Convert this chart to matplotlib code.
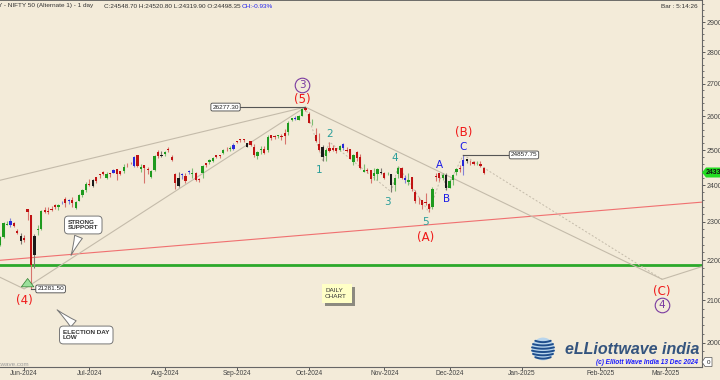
import matplotlib
matplotlib.use("Agg")
import matplotlib.pyplot as plt
import matplotlib.colors as mcolors
from matplotlib.patches import Circle, Polygon, FancyBboxPatch
from matplotlib.ticker import FixedLocator, NullFormatter
import numpy as np
import pandas as pd

plt.rcParams["font.family"] = ["Liberation Sans", "DejaVu Sans"]

BG = "#F3EBD9"
W, H = 720, 380

# NSE holidays inside the window (no bar on these days)
holidays = ["2024-06-17", "2024-07-17", "2024-08-15", "2024-10-02", "2024-11-15",
            "2024-11-20", "2024-12-25", "2025-02-26", "2025-03-14"]

# daily OHLC, 22 May 2024 .. 13 Dec 2024 (one value per trading day)
opens = [
    22405, 22614, 22931, 23038, 22977, 22762, 22617, 22568,
    23337, 23179, 22128, 22798, 22821, 23319, 23283, 23344, 23453, 23399, 23573, 23629, 23586, 23581,
    23382, 23577, 23724, 23881, 24045,
    23992, 24229, 24292, 24369, 24213, 24329, 24351, 24459, 24388, 24388, 24597, 24615, 24543, 24853,
    24446, 24568, 24444, 24231, 24423, 24943, 24839, 24886,
    25031, 24789, 24303, 24189, 24289, 24249, 24386, 24321, 24342, 24184, 24334, 24637, 24648, 24680,
    24863, 24846, 24906, 25025, 25030, 25035, 25249,
    25333, 25313, 25089, 25250, 25093, 24823, 24999, 25035, 24987, 25430, 25406, 25416, 25402, 25488,
    25526, 25873, 25921, 25899, 26006, 26248, 26062,
    25788, 25453, 25182, 25085, 24832, 25066, 25067, 25049, 25008, 25187, 25008, 25027, 24664, 24956,
    24798, 24378, 24412, 24418, 24251, 24329, 24372, 24349,
    24302, 24316, 24015, 24308, 24489, 24207, 24087, 24225, 23822, 23543, 23605, 23530, 23488, 23412,
    24254, 24343, 24205, 24274, 23928,
    24140, 24368, 24489, 24540, 24729, 24633, 24652, 24620, 24604, 24498,
]
highs = [
    22630, 22993, 23026, 23111, 22998, 22825, 22705, 22653,
    23338, 23180, 22670, 22910, 23320, 23412, 23389, 23441, 23481, 23490, 23579, 23665, 23624, 23667,
    23558, 23754, 23889, 24087, 24174,
    24164, 24236, 24309, 24401, 24364, 24344, 24443, 24461, 24402, 24593, 24635, 24662, 24838, 24855,
    24595, 24583, 24505, 24426, 24861, 24999, 24971, 24985,
    25079, 24851, 24351, 24383, 24337, 24340, 24420, 24473, 24360, 24196, 24563, 24638, 24735, 24787,
    24867, 24858, 25044, 25074, 25130, 25193, 25269,
    25334, 25321, 25216, 25276, 25168, 24958, 25130, 25113, 25433, 25430, 25445, 25441, 25482, 25611,
    25849, 25957, 26011, 26033, 26250, 26277, 26135,
    25907, 25639, 25485, 25143, 25045, 25234, 25134, 25050, 25160, 25213, 25093, 25029, 24886, 24979,
    24882, 24604, 24480, 24440, 24492, 24484, 24498, 24372,
    24368, 24316, 24229, 24537, 24503, 24276, 24336, 24243, 23874, 23675, 23606, 23781, 23507, 23957,
    24352, 24343, 24354, 24346, 24188,
    24301, 24481, 24574, 24857, 24751, 24705, 24677, 24691, 24675, 24521,
]
lows = [
    22380, 22577, 22908, 22871, 22858, 22685, 22417, 22466,
    23063, 21281, 21792, 22642, 22789, 23227, 23207, 23295, 23353, 23332, 23473, 23413, 23480, 23398,
    23350, 23562, 23673, 23805, 23985,
    23960, 24056, 24207, 24281, 24168, 24240, 24331, 24141, 24281, 24332, 24522, 24587, 24505, 24508,
    24363, 24074, 24307, 24211, 24410, 24774, 24798, 24836,
    24957, 24686, 23893, 23960, 24184, 24075, 24311, 24212, 24116, 24099, 24204, 24522, 24589, 24654,
    24784, 24771, 24875, 24972, 24965, 24999, 25199,
    25235, 25235, 25084, 25128, 24802, 24754, 24896, 24885, 24941, 25292, 25336, 25352, 25285, 25176,
    25426, 25848, 25887, 25872, 25998, 26151, 25794,
    25740, 25230, 24967, 24695, 24694, 24947, 24980, 24920, 24980, 25009, 24929, 24728, 24568, 24679,
    24446, 24378, 24342, 24074, 24134, 24141, 24307, 24172,
    24280, 23817, 23842, 24204, 24179, 24066, 24004, 23839, 23510, 23484, 23350, 23464, 23264, 23359,
    24126, 24125, 24145, 23873, 23928,
    24008, 24280, 24366, 24296, 24620, 24580, 24580, 24584, 24527, 24320,
]
closes = [
    22597, 22967, 22957, 22932, 22888, 22704, 22488, 22531,
    23263, 21884, 22620, 22821, 23290, 23259, 23264, 23323, 23399, 23466, 23558, 23516, 23567, 23501,
    23538, 23721, 23868, 24044, 24011,
    24142, 24124, 24286, 24302, 24324, 24321, 24433, 24324, 24316, 24502, 24587, 24613, 24801, 24531,
    24509, 24479, 24414, 24406, 24835, 24837, 24857, 24951,
    25011, 24718, 24056, 23992, 24297, 24117, 24368, 24347, 24139, 24144, 24541, 24573, 24699, 24770,
    24812, 24823, 25010, 25017, 25052, 25152, 25236,
    25279, 25280, 25198, 25145, 24852, 24936, 25041, 24918, 25389, 25357, 25384, 25419, 25378, 25416,
    25791, 25939, 25940, 26004, 26216, 26179, 25811,
    25797, 25250, 25015, 24796, 25013, 24982, 24998, 24964, 25128, 25057, 24971, 24750, 24854, 24781,
    24472, 24435, 24399, 24181, 24339, 24467, 24341, 24205,
    24304, 23995, 24213, 24484, 24199, 24148, 24141, 23883, 23559, 23533, 23453, 23518, 23349, 23907,
    24222, 24194, 24275, 23914, 24131,
    24276, 24457, 24468, 24708, 24677, 24620, 24610, 24641, 24549, 24330,
]
blue_days = ["2024-05-27", "2024-06-18", "2024-06-20", "2024-07-09", "2024-07-18", "2024-08-07",
             "2024-08-09", "2024-08-29", "2024-09-24", "2024-10-15", "2024-11-08", "2024-12-05"]
black_days = ["2024-05-30", "2024-06-05", "2024-07-01", "2024-07-30", "2024-08-06", "2024-09-04",
              "2024-10-07", "2024-10-30", "2024-11-04", "2024-11-28", "2024-12-06"]

# wave pivots (date, price)
major_dates = ["2024-05-31", "2024-09-27", "2025-02-27"]
major_prices = [21281.5, 26277.3, 21520]
sub_dates = ["2024-09-27", "2024-10-07", "2024-10-09", "2024-11-04", "2024-11-06", "2024-11-21",
             "2024-11-27", "2024-11-28", "2024-12-05"]
sub_prices = [26277.3, 24695, 25234, 23817, 24537, 23264, 24354, 23873, 24857.75]

# wave labels
red_text = ["(5)", "(A)", "(B)", "(C)", "(4)"]
red_dates = ["2024-09-26", "2024-11-19", "2024-12-05", "2025-02-27", "2024-05-31"]
red_prices = [26520, 22585, 25520, 21220, 21000]
teal_text = ["1", "2", "3", "4", "5"]
teal_dates = ["2024-10-04", "2024-10-09", "2024-11-01", "2024-11-05", "2024-11-19"]
teal_prices = [24420, 25460, 23550, 24770, 23010]
blue_text = ["A", "B", "C"]
blue_dates = ["2024-11-26", "2024-11-28", "2024-12-05"]
blue_prices = [24570, 23610, 25090]
circ_text = ["3", "4"]
circ_dates = ["2024-09-26", "2025-02-27"]
circ_prices = [26950, 20880]

support_level = 21884
red_line_prices = [22000, 23535]
upper_line_left = 24139
lead_in_left = 21571
after_c_price = 21840

cal = pd.bdate_range("2024-05-22", "2025-03-31")
cal = cal[~cal.isin(pd.to_datetime(holidays))]
pos = {d.strftime("%Y-%m-%d"): i for i, d in enumerate(cal)}
bar_dates = [d for d in pos if d <= "2024-12-13"]
assert len(bar_dates) == len(opens) == len(highs) == len(lows) == len(closes)

COL = {"g": "#1E9A1E", "r": "#C01212", "b": "#2828D8", "k": "#1A1A1A"}
RED, TEAL, BLUE, PURPLE = "#F01818", "#2A9E9A", "#1C1CE6", "#7A3AA0"
GRAYLINE = "#C4BBAA"


def lighten(c, amt=0.5):
    r, g, b = mcolors.to_rgb(c)
    br, bg_, bb = mcolors.to_rgb(BG)
    return (r + (br - r) * amt, g + (bg_ - g) * amt, b + (bb - b) * amt)


def px(x, y):
    # reference-pixel position -> figure fraction
    return x / W, 1 - y / H


fig = plt.figure(figsize=(W / 100, H / 100), dpi=100)
fig.patch.set_facecolor(BG)
ax = fig.add_axes([0, 13 / H, 702 / W, 367 / H])
ax.set_facecolor(BG)
ax.set_yscale("log")
ax.set_ylim(19440, 29750)
ax.set_xlim(-0.05, 204.6)

# candles
for d, o, hi, lo, c in zip(bar_dates, opens, highs, lows, closes):
    x = pos[d]
    key = "g" if c >= o else "r"
    if d in blue_days:
        key = "b"
    elif d in black_days:
        key = "k"
    col = COL[key]
    ax.vlines(x, lo, hi, color=lighten(col, 0.45), lw=0.8, zorder=3)
    b0, b1 = min(o, c), max(o, c)
    b1 = max(b1, b0 * 1.0007)
    ax.bar(x, b1 - b0, bottom=b0, width=0.66, color=col, lw=0, zorder=4)

x_left, x_right = ax.get_xlim()

# support & trend lines
ax.axhline(support_level, color="#2BA82B", lw=2.0, zorder=2)
ax.plot([x_left, x_right], red_line_prices, color="#F07070", lw=0.8, zorder=2)
ax.plot([x_left, pos[major_dates[1]]], [upper_line_left, major_prices[1]], color=GRAYLINE, lw=0.8, zorder=2)
ax.plot([x_left] + [pos[d] for d in major_dates] + [x_right],
        [lead_in_left] + major_prices + [after_c_price], color=GRAYLINE, lw=0.8, zorder=2)
ax.plot([pos[d] for d in sub_dates], sub_prices, color=GRAYLINE, lw=0.7, ls=(0, (2, 2)), zorder=2)
ax.plot([pos[sub_dates[-1]], pos[major_dates[2]]], [sub_prices[-1], major_prices[2]],
        color=GRAYLINE, lw=0.7, ls=(0, (2, 2)), zorder=2)

# price tags
box = dict(boxstyle="round,pad=0.22,rounding_size=0.25", fc="white", ec="#444", lw=0.6)
tags = [(pos["2024-09-27"], 26277.30, -23.3), (pos["2024-12-05"], 24857.75, 17.7),
        (pos["2024-06-04"], 21281.50, 5.7)]
for x0, p, off in tags:
    ax.plot([x0, x0 + off], [p, p], color="#555", lw=0.8, zorder=5)
    ax.text(x0 + off, p, f"{p:.2f}", fontsize=4.6, ha="center", va="center", color="#222",
            bbox=box, zorder=6)

# wave labels
for txts, ds, ps, col, fs in [(red_text, red_dates, red_prices, RED, 8.5),
                              (teal_text, teal_dates, teal_prices, TEAL, 7.5),
                              (blue_text, blue_dates, blue_prices, BLUE, 7.5)]:
    for t, d, p in zip(txts, ds, ps):
        ax.text(pos[d], p, t, color=col, fontsize=fs, ha="center", va="center", zorder=7,
                family=["DejaVu Sans"])
for t, d, p in zip(circ_text, circ_dates, circ_prices):
    ax.plot(pos[d], p, "o", ms=10.5, mfc="none", mec=PURPLE, mew=0.8, zorder=7)
    ax.text(pos[d], p, t, color=PURPLE, fontsize=7.5, ha="center", va="center", zorder=7,
            family=["DejaVu Sans"])

# election-day arrow
ax.annotate("", xy=(pos["2024-06-03"], 21610), xytext=(pos["2024-06-03"], 21320),
            arrowprops=dict(arrowstyle="simple,head_width=0.9,head_length=0.6,tail_width=0.45",
                            fc="#9BE09B", ec="#2E7D2E", lw=0.5), zorder=6)

# callouts
callout = dict(boxstyle="round,pad=0.55,rounding_size=0.6", fc="white", ec="#777", lw=0.7)
wedge = dict(arrowstyle="wedge,tail_width=1.3,shrink_factor=0.4", fc="white", ec="#777", lw=0.7)
ax.annotate("STRONG\nSUPPORT", xy=(70 / 702, 1 - 258 / 367), xycoords="axes fraction",
            xytext=(68 / 702, 1 - 225 / 367), textcoords="axes fraction", ha="left", va="center",
            fontsize=4.6, fontweight="bold", color="#333", bbox=callout, arrowprops=wedge, zorder=8)
ax.annotate("ELECTION DAY\nLOW", xy=(55 / 702, 1 - 308 / 367), xycoords="axes fraction",
            xytext=(63 / 702, 1 - 335 / 367), textcoords="axes fraction", ha="left", va="center",
            fontsize=4.6, fontweight="bold", color="#333", bbox=callout, arrowprops=wedge, zorder=8)

# daily chart note with drop shadow
for dx, dy, fc in [(3, 3, "#8C8A80"), (0, 0, "#FFFFC6")]:
    x0, y0 = px(322 + dx, 303 + dy)
    fig.patches.append(FancyBboxPatch((x0, y0), 30 / W, 19 / H, boxstyle="square,pad=0",
                                      fc=fc, ec="none", transform=fig.transFigure, zorder=8))
fig.text(*px(325, 293.5), "DAILY\nCHART", fontsize=4.6, color="#333", ha="left", va="center", zorder=9)

# axes styling
ax.spines["left"].set_visible(False)
ax.spines["top"].set_color("#555")
ax.spines["top"].set_linewidth(1.2)
for s in ["right", "bottom"]:
    ax.spines[s].set_color("#666")
    ax.spines[s].set_linewidth(0.8)

ax.yaxis.tick_right()
yt = list(range(20000, 30000, 1000))
ax.yaxis.set_major_locator(FixedLocator(yt))
ax.set_yticklabels([str(v) for v in yt])
ax.yaxis.set_minor_locator(FixedLocator([v for v in range(19600, 29800, 200) if v % 1000]))
ax.yaxis.set_minor_formatter(NullFormatter())
ax.tick_params(axis="y", which="major", length=2.5, width=0.6, pad=0.8, labelsize=5, colors="#444")
ax.tick_params(axis="y", which="minor", length=1.6, width=0.5, colors="#444")

months = pd.period_range("2024-06", "2025-03", freq="M")
mt, ml = [], []
for m in months:
    first = next(d for d in pos if d.startswith(str(m)))
    mt.append(pos[first] - 1)
    ml.append(m.strftime("%b-%Y"))
ax.set_xticks(mt)
ax.set_xticklabels(ml)
ax.tick_params(axis="x", length=2, width=0.6, pad=0.5, labelsize=4.8, colors="#444")

# header text
fig.text(*px(-2, 6), "Y - NIFTY 50 (Alternate 1) - 1 day", fontsize=4.6, color="#333", va="center")
fig.text(*px(104, 6), "C:24548.70 H:24520.80 L:24319.90 O:24498.35", fontsize=4.6,
         color="#333", va="center")
fig.text(*px(242, 6), "CH:-0.93%", fontsize=4.6, color="#2222EE", va="center")
fig.text(*px(698, 6), "Bar : 5:14:26", fontsize=4.6, color="#333", va="center", ha="right")

# right-edge markers
fig.patches.append(Polygon([px(702, 172.5), px(706, 167.5), px(720, 167.5), px(720, 177.5), px(706, 177.5)],
                           closed=True, fc="#22DD22", ec="none", transform=fig.transFigure))
fig.text(*px(706, 172.5), "24330", fontsize=5, color="#111", va="center", fontweight="bold")
fig.patches.append(Polygon([px(702, 362), px(705, 357.5), px(712, 357.5), px(712, 366.5), px(705, 366.5)],
                           closed=True, fc="white", ec="#555", lw=0.5, transform=fig.transFigure))
fig.text(*px(708.5, 362), "0", fontsize=4.5, color="#222", va="center", ha="center")

# logo + copyright
lax = fig.add_axes([(543 - 12) / W, (H - 349 - 12) / H, 24 / W, 24 / H])
lax.set_xlim(-1.05, 1.05)
lax.set_ylim(-1.05, 1.05)
lax.axis("off")
lax.add_patch(Circle((0, 0), 1, fc="#B9D5EC", ec="none"))
for yy in np.linspace(-0.72, 0.72, 6):
    xe = np.sqrt(1 - yy ** 2) * 0.97
    xs = np.linspace(-xe, xe, 30)
    lax.plot(xs, yy - 0.12 * (1 - (xs / max(xe, 1e-6)) ** 2), color="#1F4E8C", lw=1.4,
             solid_capstyle="round")
fig.text(*px(565, 350), "eLLiottwave india", fontsize=11.5, fontweight="bold", style="italic",
         color="#34547E", va="center", ha="left")
fig.text(*px(698, 362), "(c) Elliott Wave India 13 Dec 2024", fontsize=4.7, fontweight="bold",
         style="italic", color="#1A1AFF", va="center", ha="right")
fig.text(*px(29, 364), "www.elliottwave.com", fontsize=4.5, color="#999", va="center", ha="right")

fig.savefig("out.png", dpi=100, facecolor=BG)
